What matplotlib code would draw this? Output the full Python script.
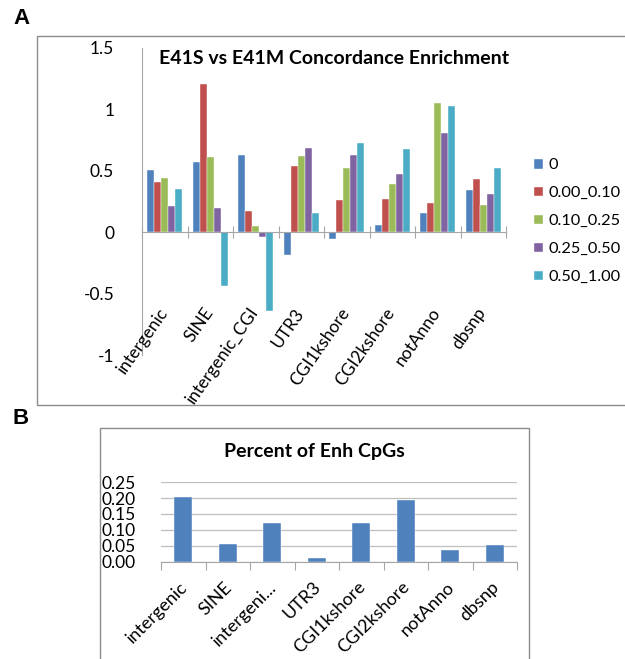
import numpy as np
import matplotlib
matplotlib.use('Agg')
import matplotlib.pyplot as plt
from matplotlib.patches import Rectangle, Patch
from matplotlib.transforms import offset_copy

plt.rcParams['font.family'] = ['Lato', 'DejaVu Sans']

categories = ['intergenic', 'SINE', 'intergenic_CGI', 'UTR3', 'CGI1kshore', 'CGI2kshore', 'notAnno', 'dbsnp']
series_names = ['0', '0.00_0.10', '0.10_0.25', '0.25_0.50', '0.50_1.00']
s0 = [0.51, 0.575, 0.63, -0.185, -0.057, 0.06, 0.16, 0.34]
s1 = [0.405, 1.205, 0.175, 0.54, 0.265, 0.27, 0.235, 0.43]
s2 = [0.44, 0.61, 0.05, 0.62, 0.52, 0.395, 1.055, 0.225]
s3 = [0.215, 0.2, -0.04, 0.685, 0.625, 0.47, 0.805, 0.31]
s4 = [0.35, -0.435, -0.64, 0.16, 0.73, 0.68, 1.025, 0.52]
series = [s0, s1, s2, s3, s4]
colors = ['#4F81BD', '#C0504D', '#9BBB59', '#8064A2', '#4BACC6']

b_labels = ['intergenic', 'SINE', 'intergeni...', 'UTR3', 'CGI1kshore', 'CGI2kshore', 'notAnno', 'dbsnp']
pct_enh = [0.203, 0.055, 0.121, 0.014, 0.123, 0.194, 0.038, 0.052]

W, H = 625, 659
fig = plt.figure(figsize=(W / 100, H / 100), dpi=100)

def px(x0, y0, x1, y1):
    # pixel box -> figure fraction [left, bottom, width, height]
    return [x0 / W, 1 - y1 / H, (x1 - x0) / W, (y1 - y0) / H]

# panel frames
fig.add_artist(Rectangle((37 / W, 1 - 405 / H), 600 / W, 369 / H, transform=fig.transFigure,
                         fill=False, edgecolor='#8c8c8c', lw=1.0))
fig.add_artist(Rectangle((100 / W, -0.05), 429 / W, 1 - 428 / H + 0.05, transform=fig.transFigure,
                         fill=False, edgecolor='#8c8c8c', lw=1.0))
fig.text(13 / W, 1 - 18 / H, 'A', family='Liberation Sans', weight='bold', fontsize=16, va='center')
fig.text(13 / W, 1 - 419 / H, 'B', family='Liberation Sans', weight='bold', fontsize=16, va='center')

# ---- panel A
ax = fig.add_axes(px(142, 48, 506, 355))
x = np.arange(len(categories))
bw = 0.154
for k, (vals, c) in enumerate(zip(series, colors)):
    ax.bar(x + (k - 2) * bw, vals, bw, color=c, edgecolor='white', linewidth=0.3, label=series_names[k])
ax.set_xlim(-0.5, len(categories) - 0.5)
ax.set_ylim(-1, 1.5)
ax.set_yticks([-1, -0.5, 0, 0.5, 1, 1.5])
ax.set_yticklabels(['-1', '-0.5', '0', '0.5', '1', '1.5'])
ax.tick_params(axis='y', length=0, pad=20, labelsize=12.5)
for s in ['top', 'right']:
    ax.spines[s].set_visible(False)
ax.spines['left'].set_color('#a6a6a6')
ax.spines['bottom'].set_position(('data', 0))
ax.spines['bottom'].set_color('#a6a6a6')
ax.set_xticks(np.arange(len(categories) + 1) - 0.5)
ax.set_xticklabels([])
ax.tick_params(axis='x', direction='inout', length=8, color='#a6a6a6')
lab_tr = offset_copy(ax.transData, fig=fig, x=6, y=-73, units='dots')
for i, name in enumerate(categories):
    ax.text(i, 0, name, transform=lab_tr, rotation=55, ha='right', va='top', fontsize=12.5)
fig.text(334 / W, 1 - 59 / H, 'E41S vs E41M Concordance Enrichment', ha='center', va='center',
         fontsize=14, weight='bold')
handles = [Patch(facecolor=c, edgecolor='white') for c in colors]
fig.legend(handles, series_names, loc='center left', bbox_to_anchor=(518 / W, 1 - 221 / H),
           frameon=False, fontsize=11.8, handlelength=0.6, handleheight=0.6, handletextpad=0.35,
           labelspacing=0.85)

# ---- panel B
bx = fig.add_axes(px(161, 482, 517, 562))
bx.bar(x, pct_enh, 0.4, color='#4F81BD', edgecolor='white', linewidth=0.3, zorder=3)
bx.set_xlim(-0.5, len(categories) - 0.5)
bx.set_ylim(0, 0.25)
bx.set_yticks([0, 0.05, 0.1, 0.15, 0.2, 0.25])
bx.set_yticklabels(['0.00', '0.05', '0.10', '0.15', '0.20', '0.25'])
bx.tick_params(axis='y', length=0, pad=18, labelsize=12.5)
bx.grid(axis='y', color='#bfbfbf', lw=0.9, zorder=0)
for s in ['top', 'right', 'left']:
    bx.spines[s].set_visible(False)
bx.spines['bottom'].set_color('#a6a6a6')
bx.set_xticks(np.arange(len(categories) + 1) - 0.5)
bx.set_xticklabels([])
bx.tick_params(axis='x', direction='out', length=6, color='#a6a6a6')
lab_tr_b = offset_copy(bx.transData, fig=fig, x=7, y=-17, units='dots')
for i, name in enumerate(b_labels):
    bx.text(i, 0, name, transform=lab_tr_b, rotation=45, ha='right', va='top', fontsize=13)
fig.text(314 / W, 1 - 452 / H, 'Percent of Enh CpGs', ha='center', va='center', fontsize=14, weight='bold')

fig.savefig('out.png', dpi=100)
